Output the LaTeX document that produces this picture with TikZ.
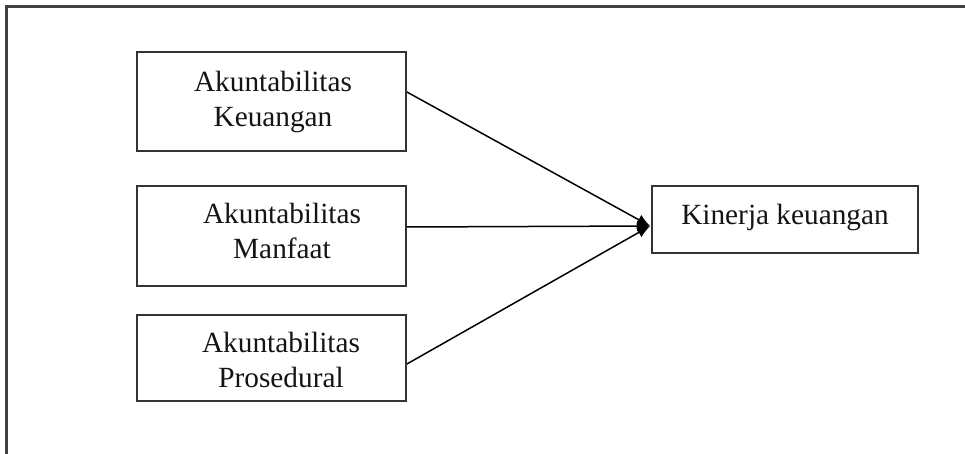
\documentclass[tikz,border=0pt]{standalone}
\usepackage{fontspec}
\setmainfont{Liberation Serif}
\usetikzlibrary{calc,arrows.meta}
\begin{document}
\begin{tikzpicture}[x=1pt,y=-1pt,
  box/.style={draw=black!80,line width=1.8pt,minimum width=269pt,inner sep=0pt,anchor=center},
  txt/.style={align=center,inner sep=0pt,text=black!92,font=\fontsize{29.3}{35}\selectfont},
  conn/.style={line width=1.5pt,-{Latex[length=13pt,width=11pt]}}]
\useasboundingbox (0,0) rectangle (965,454);
\draw[black!75,line width=2.2pt] (6.5,470) -- (6.5,6.5) -- (980,6.5);
\node[box,minimum height=99pt] (b1) at (271.5,101.5) {};
\node[txt] (t1) at ($(b1.center)+(1.5,0)$) {Akuntabilitas\\Keuangan};
\node[box,minimum height=100pt] (b2) at (271.5,236) {};
\node[txt] (t2) at ($(b2.center)+(10.5,-5)$) {Akuntabilitas\\Manfaat};
\node[box,minimum height=86pt] (b3) at (271.5,358) {};
\node[txt] (t3) at ($(b3.center)+(9.5,2)$) {Akuntabilitas\\Prosedural};
\node[box,minimum width=266pt,minimum height=67pt] (k) at (785,219.5) {};
\node[txt] (tk) at ($(k.center)+(0,-2)$) {Kinerja keuangan};
\coordinate (tip) at ($(k.west)+(-1,6.5)$);
\draw[conn] ($(b1.east)+(0,-9.5)$) -- (tip);
\draw[conn] ($(b2.east)+(0,-9)$) -- (tip);
\draw[conn] ($(b3.east)+(0,6)$) -- (tip);
\end{tikzpicture}
\end{document}
